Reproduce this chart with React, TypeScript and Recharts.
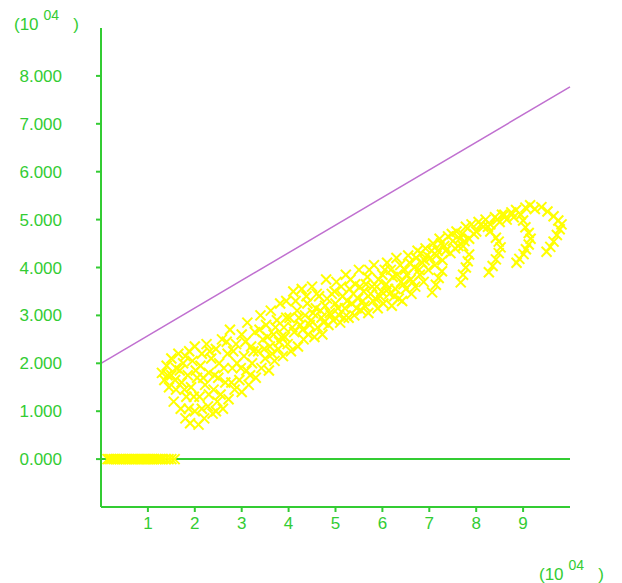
import React from "react";
import {
  ScatterChart,
  Scatter,
  XAxis,
  YAxis,
  ReferenceLine,
} from "recharts";

// values are in units of 10^4
const xTicks = [1, 2, 3, 4, 5, 6, 7, 8, 9];
const yTicks = [0, 1, 2, 3, 4, 5, 6, 7, 8];

const trendStart = { x: 0, y: 2.0 };
const trendEnd = { x: 10, y: 7.77 };

const baselineX = [
  0.14, 0.18, 0.22, 0.27, 0.31, 0.35, 0.4, 0.44, 0.48, 0.53, 0.57, 0.61, 0.66, 0.7,
  0.74, 0.79, 0.83, 0.87, 0.92, 0.96, 1.0, 1.05, 1.09, 1.13, 1.18, 1.22, 1.27, 1.31,
  1.37, 1.44, 1.5, 1.57,
];

const lowerBlob = [
  [1.3, 1.8], [1.35, 1.65], [1.4, 1.95], [1.45, 1.5], [1.5, 1.75], [1.5, 2.1],
  [1.55, 1.2], [1.6, 1.45], [1.6, 1.9], [1.65, 2.2], [1.7, 1.05], [1.72, 1.6],
  [1.75, 2.0], [1.8, 0.85], [1.82, 1.3], [1.85, 1.75], [1.88, 2.25], [1.9, 0.75],
  [1.92, 1.5], [1.95, 2.05], [2.0, 1.0], [2.0, 2.35], [2.05, 1.7], [2.08, 0.72],
  [2.1, 1.3], [2.12, 1.95], [2.15, 2.2], [2.2, 0.85], [2.22, 1.55], [2.25, 2.4],
  [2.28, 1.1], [2.3, 1.8], [2.35, 2.1], [2.38, 0.95], [2.4, 1.45], [2.45, 2.3],
  [2.48, 1.2], [2.5, 1.7], [2.52, 2.0], [2.55, 1.35], [2.58, 2.5], [2.6, 1.05],
  [1.42, 1.75], [1.58, 1.65], [1.68, 1.85], [1.78, 1.45], [1.8, 2.15], [1.87, 1.05],
  [1.98, 1.3], [2.02, 1.85], [2.15, 1.05], [2.18, 1.7], [2.3, 1.35], [2.32, 2.25],
  [2.42, 1.75], [2.45, 1.0],
];

const bandLeft = [
  [2.65, 1.6], [2.7, 2.2], [2.72, 1.25], [2.75, 2.7], [2.8, 1.9], [2.85, 1.45],
  [2.88, 2.4], [2.9, 2.0], [2.95, 1.65], [3.0, 2.6], [3.0, 1.4], [3.05, 2.15],
  [3.1, 1.85], [3.12, 2.85], [3.15, 1.55], [3.2, 2.35], [3.22, 2.0], [3.28, 2.65],
  [3.3, 1.7], [3.35, 2.25], [3.4, 3.0], [3.42, 1.9], [3.45, 2.5], [3.5, 2.1],
  [3.52, 2.8], [3.58, 1.85], [3.6, 2.35], [3.62, 3.1], [3.68, 2.6], [3.7, 2.05],
  [3.75, 2.9], [3.78, 2.3], [3.82, 3.25], [3.85, 2.55], [3.88, 2.15], [3.9, 2.75],
  [3.95, 3.3], [3.98, 2.4],
  [2.62, 1.9], [2.68, 2.45], [2.78, 1.6], [2.82, 2.25], [2.98, 1.9], [3.08, 2.45],
  [3.18, 1.75], [3.25, 2.25], [3.38, 2.7], [3.48, 2.3], [3.55, 2.55], [3.65, 2.2],
  [3.72, 2.75], [3.8, 2.45], [3.92, 2.55], [3.95, 2.95],
];

const bandMid = [
  [4.02, 2.95], [4.05, 2.25], [4.1, 3.5], [4.12, 2.65], [4.18, 3.1], [4.2, 2.35],
  [4.25, 2.8], [4.28, 3.55], [4.32, 2.5], [4.35, 3.0], [4.4, 3.25], [4.42, 2.6],
  [4.48, 2.9], [4.5, 3.6], [4.55, 2.55], [4.58, 3.15], [4.62, 2.75], [4.65, 3.4],
  [4.7, 2.95], [4.72, 2.6], [4.78, 3.2], [4.8, 3.75], [4.85, 2.8], [4.88, 3.05],
  [4.92, 3.45], [4.95, 2.9], [5.0, 3.25], [5.02, 3.7], [5.08, 3.0], [5.1, 2.85],
  [5.15, 3.4], [5.2, 3.15], [5.22, 3.85], [5.28, 2.95], [5.3, 3.55], [5.35, 3.25],
  [5.4, 3.0], [5.42, 3.65], [5.48, 3.35], [5.5, 3.95],
  [4.08, 2.75], [4.15, 3.3], [4.22, 2.95], [4.3, 2.7], [4.38, 3.4], [4.45, 2.8],
  [4.52, 3.05], [4.6, 3.45], [4.68, 3.1], [4.75, 2.85], [4.82, 3.35], [4.9, 3.0],
  [4.98, 3.5], [5.05, 3.15], [5.12, 3.6], [5.18, 2.95], [5.25, 3.3], [5.32, 3.75],
  [5.38, 3.45], [5.45, 3.15],
];

const bandRight = [
  [5.55, 3.1], [5.6, 3.5], [5.62, 3.2], [5.68, 3.8], [5.7, 3.05], [5.75, 3.45],
  [5.8, 3.3], [5.82, 4.05], [5.88, 3.6], [5.9, 3.15], [5.95, 3.4], [6.0, 3.85],
  [6.02, 3.25], [6.08, 3.65], [6.1, 4.1], [6.15, 3.45], [6.2, 3.2], [6.22, 3.8],
  [6.28, 3.55], [6.3, 4.2], [6.35, 3.35], [6.4, 3.7], [6.42, 3.3], [6.48, 3.95],
  [6.5, 3.55], [6.55, 4.25], [6.6, 3.75], [6.62, 3.45], [6.68, 4.0], [6.7, 3.6],
  [6.75, 4.35], [6.8, 3.85], [6.85, 4.1], [6.88, 3.7], [6.92, 4.4], [6.98, 3.95],
  [5.52, 3.6], [5.58, 3.3], [5.65, 3.65], [5.72, 3.95], [5.78, 3.6], [5.85, 3.35],
  [5.92, 3.75], [5.98, 3.5], [6.05, 3.95], [6.12, 3.55], [6.18, 3.95], [6.25, 3.4],
  [6.32, 3.85], [6.38, 4.05], [6.45, 3.65], [6.52, 3.85], [6.58, 4.1], [6.65, 3.7],
  [6.72, 4.2], [6.78, 3.95], [6.82, 4.3], [6.9, 4.15], [6.95, 4.25],
];

const bandTop = [
  [7.02, 4.2], [7.08, 4.5], [7.12, 4.05], [7.18, 4.35], [7.22, 4.6], [7.28, 4.15],
  [7.32, 4.45], [7.4, 4.65], [7.45, 4.3], [7.5, 4.55], [7.58, 4.75], [7.62, 4.45],
  [7.7, 4.7], [7.78, 4.85], [7.85, 4.6], [7.9, 4.9], [8.0, 4.75], [8.05, 4.95],
  [8.15, 4.85], [8.2, 5.0], [8.3, 4.9], [8.4, 5.05], [8.5, 4.95], [8.55, 5.1],
  [8.65, 5.0], [8.75, 5.15], [8.85, 5.2], [8.95, 5.1], [9.05, 5.25], [9.15, 5.3],
  [9.25, 5.22],
  [7.05, 4.35], [7.15, 4.25], [7.25, 4.5], [7.35, 4.35], [7.48, 4.7], [7.55, 4.4],
  [7.65, 4.6], [7.75, 4.55], [7.95, 4.7], [8.1, 4.9], [8.25, 4.85], [8.45, 5.0],
  [8.6, 5.1], [8.8, 5.05],
];

const arcs = [
  [7.27, 3.92], [7.2, 3.78], [7.14, 3.64], [7.06, 3.48],
  [7.72, 4.45], [7.85, 4.27], [7.82, 4.13], [7.78, 4.0], [7.72, 3.85], [7.67, 3.69],
  [8.3, 4.75], [8.42, 4.62], [8.48, 4.54], [8.52, 4.42], [8.48, 4.3], [8.42, 4.17],
  [8.35, 4.03], [8.27, 3.9],
  [9.0, 4.98], [9.05, 4.84], [9.12, 4.72], [9.16, 4.6], [9.12, 4.48], [9.06, 4.38],
  [9.01, 4.28], [8.92, 4.18], [8.86, 4.1],
  [9.39, 5.26], [9.52, 5.17], [9.65, 5.07], [9.75, 4.98], [9.82, 4.9], [9.78, 4.8],
  [9.72, 4.68], [9.65, 4.54], [9.58, 4.43], [9.5, 4.33],
];

const GREEN = "#33cc33";
const YELLOW = "#ffff00";
const PURPLE = "#c070d0";
const FONT = "'Liberation Sans', Arial, sans-serif";

const points = [
  ...baselineX.map((x) => ({ x, y: 0 })),
  ...[...lowerBlob, ...bandLeft, ...bandMid, ...bandRight, ...bandTop, ...arcs].map(
    ([x, y]) => ({ x, y })
  ),
];

const Cross = (props: any) => {
  const { cx, cy } = props;
  if (cx == null || cy == null) return null;
  const r = 5;
  return (
    <g stroke={YELLOW} strokeWidth={2}>
      <line x1={cx - r} y1={cy - r} x2={cx + r} y2={cy + r} />
      <line x1={cx - r} y1={cy + r} x2={cx + r} y2={cy - r} />
    </g>
  );
};

const Exponent = ({ x, y }: { x: number; y: number }) => (
  <text x={x} y={y} fill={GREEN} fontFamily={FONT} fontSize={17}>
    (10
    <tspan dx={5} dy={-10} fontSize={14}>
      04
    </tspan>
    <tspan dx={14} dy={10}>
      )
    </tspan>
  </text>
);

export default function App() {
  return (
    <div style={{ position: "absolute", left: 0, top: 0, width: 622, height: 583, background: "#fff" }}>
      <ScatterChart
        width={622}
        height={583}
        margin={{ top: 28, right: 52, bottom: 0, left: 0 }}
        style={{ fontFamily: FONT }}
      >
        <XAxis
          type="number"
          dataKey="x"
          domain={[0, 10]}
          ticks={xTicks}
          height={76}
          axisLine={{ stroke: GREEN, strokeWidth: 2 }}
          tickLine={{ stroke: GREEN, strokeWidth: 2 }}
          tickSize={5}
          tickMargin={5}
          tick={{ fill: GREEN, fontSize: 17 }}
          allowDataOverflow
        />
        <YAxis
          type="number"
          dataKey="y"
          domain={[-1, 9]}
          ticks={yTicks}
          width={101}
          axisLine={{ stroke: GREEN, strokeWidth: 2 }}
          tickLine={{ stroke: GREEN, strokeWidth: 2 }}
          tickSize={5}
          tickMargin={34}
          tick={{ fill: GREEN, fontSize: 17 }}
          tickFormatter={(v: number) => v.toFixed(3)}
          allowDataOverflow
        />
        <ReferenceLine y={0} stroke={GREEN} strokeWidth={2} />
        <ReferenceLine
          segment={[trendStart, trendEnd]}
          stroke={PURPLE}
          strokeWidth={1.5}
        />
        <Scatter data={points} shape={<Cross />} isAnimationActive={false} />
      </ScatterChart>
      <svg
        width={622}
        height={583}
        style={{ position: "absolute", left: 0, top: 0, pointerEvents: "none" }}
      >
        <Exponent x={14} y={30} />
        <Exponent x={539} y={580} />
      </svg>
    </div>
  );
}
